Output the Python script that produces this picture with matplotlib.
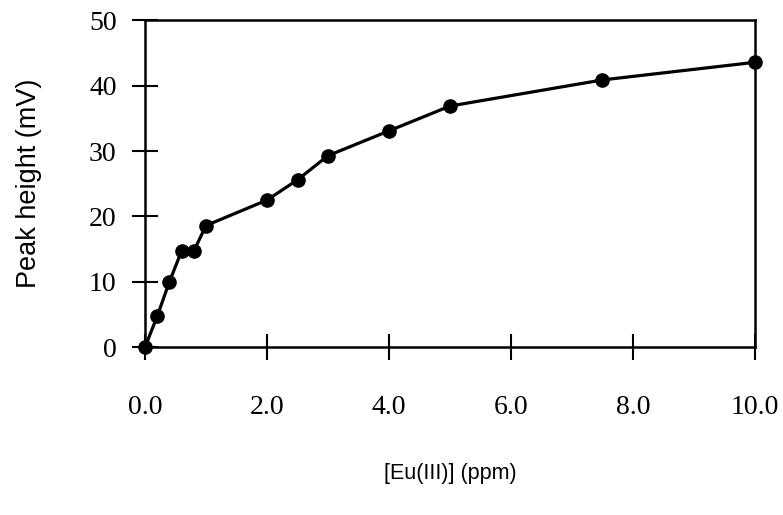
"""Peak height versus Eu(III) concentration calibration curve."""

import matplotlib

matplotlib.use("Agg")
import matplotlib.pyplot as plt

# Eu(III) concentration (ppm) and measured peak height (mV)
concentration = [0.0, 0.2, 0.4, 0.6, 0.8, 1.0, 2.0, 2.5, 3.0, 4.0, 5.0, 7.5, 10.0]
peak_height = [0.0, 4.7, 10.0, 14.7, 14.7, 18.6, 22.5, 25.6, 29.3, 33.1, 36.9, 40.9, 43.6]

x_ticks = [0.0, 2.0, 4.0, 6.0, 8.0, 10.0]
x_tick_labels = ["0.0", "2.0", "4.0", "6.0", "8.0", "10.0"]
y_ticks = [0, 10, 20, 30, 40, 50]

fig = plt.figure(figsize=(7.83, 5.15), dpi=100)
ax = fig.add_axes([0.1852, 0.3262, 0.9642 - 0.1852, 0.9602 - 0.3262])

ax.plot(concentration, peak_height, "-o", color="black", linewidth=2.3,
        markersize=9.5, clip_on=False, zorder=3)

ax.set_xlim(0, 10)
ax.set_ylim(0, 50)
ax.set_xticks(x_ticks)
ax.set_xticklabels(x_tick_labels)
ax.set_yticks(y_ticks)

serif = ["Liberation Serif", "DejaVu Serif"]
for lab in ax.get_xticklabels() + ax.get_yticklabels():
    lab.set_family(serif)
    lab.set_fontsize(20)

ax.tick_params(axis="both", direction="inout", length=19, width=1.5, color="black")
ax.tick_params(axis="y", pad=11)
ax.tick_params(axis="x", pad=25)

for side in ["left", "bottom", "top", "right"]:
    ax.spines[side].set_linewidth(1.8)

ax.set_xlabel("[Eu(III)] (ppm)", family=["Liberation Sans", "DejaVu Sans"],
              fontsize=15.5, labelpad=31)
ax.set_ylabel("Peak height (mV)", family=["Liberation Sans", "DejaVu Sans"],
              fontsize=19.5, labelpad=34)

fig.savefig("out.png", dpi=100)
